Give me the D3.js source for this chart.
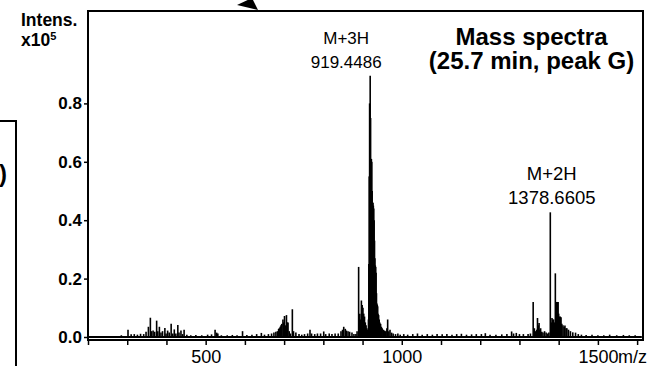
<!DOCTYPE html>
<html>
<head>
<meta charset="utf-8">
<script src="https://cdnjs.cloudflare.com/ajax/libs/d3/7.8.5/d3.min.js"></script>
<style>
  body { margin: 0; background: #fff; }
  svg { display: block; }
</style>
</head>
<body>
<div id="chart"></div>
<script>
var width = 652, height = 366;
var font = 'Arial, "Liberation Sans", Helvetica, sans-serif';

// axis ticks
var xTickValues = [200, 300, 400, 500, 600, 700, 800, 900, 1000, 1100, 1200, 1300, 1400, 1500, 1600];
var xTickLabels = [500, 1000, 1500];
var yTickValues = [0, 0.2, 0.4, 0.6, 0.8];

// spectrum as [m/z, intensity x10^5]
var lowMass = [[285,0.006],[302,0.025],[310,0.009],[318,0.01],[326,0.008],[334,0.011],[342,0.01],[348,0.018],
  [354,0.035],[359,0.066],[362,0.02],[366,0.022],[370,0.018],[375,0.056],[378,0.02],[382,0.035],[386,0.015],
  [390,0.02],[396,0.031],[399,0.012],[403,0.022],[407,0.015],[412,0.045],[416,0.012],[420,0.026],[424,0.012],
  [429,0.041],[432,0.015],[437,0.022],[441,0.01],[445,0.025],[452,0.008],[462,0.006],[475,0.007],[490,0.006],
  [505,0.008],[515,0.009],[524,0.025],[528,0.015],[531,0.012],[540,0.006],[555,0.006],[568,0.007],[580,0.006],
  [594,0.02],[605,0.007],[618,0.008],[630,0.01],[642,0.014],[650,0.008],[660,0.01],[668,0.012],[674,0.015],
  [679,0.018],[683,0.02],[686,0.028],[688,0.03],[690,0.035],[692,0.04],[694,0.045],[697,0.06],[699,0.05],
  [701,0.072],[703,0.04],[706,0.075],[708,0.05],[710,0.05],[713,0.02],[716,0.012],[721,0.095],[724,0.02],
  [730,0.015],[738,0.01],[745,0.008],[752,0.01],[760,0.012],[766,0.025],[770,0.012],[778,0.01],[785,0.012],
  [793,0.012],[801,0.019],[806,0.01],[815,0.012],[822,0.01],[830,0.012],[838,0.012],[845,0.02],[849,0.025],
  [852,0.035],[856,0.028],[859,0.022],[863,0.02],[867,0.018],[873,0.015],[878,0.01],[883,0.01]];

var cluster3H = [[886,0.02],[890,0.24],[893,0.08],[895,0.06],[897,0.125],[899,0.11],[901,0.10],[903,0.08],
  [905,0.07],[907,0.05],[909,0.04],[911,0.03],[913,0.025],[915,0.06],[916,0.25],[917,0.55],[918,0.8],
  [919.4486,0.895],[920.5,0.75],[921.5,0.61],[922.5,0.61],[923.5,0.60],[924.5,0.5],[925.5,0.46],[926.5,0.46],
  [927.5,0.45],[928.5,0.44],[929.5,0.40],[930.5,0.33],[931.5,0.27],[932.5,0.245],[933.5,0.24],[934.5,0.22],
  [935.5,0.15],[936.5,0.115],[937.5,0.11],[938.5,0.105],[939.5,0.08],[941,0.075],[942.5,0.06],[944,0.05],
  [946,0.045],[948,0.035],[950,0.03],[953,0.025],[956,0.022],[959,0.02],[962,0.03],[964,0.06],[967,0.02],
  [970,0.025],[974,0.015],[978,0.012],[984,0.01],[990,0.012],[996,0.008]];

var midMass = [[1005,0.01],[1015,0.008],[1028,0.01],[1040,0.012],[1052,0.008],[1065,0.01],[1078,0.008],
  [1090,0.01],[1103,0.009],[1115,0.01],[1128,0.008],[1140,0.01],[1152,0.011],[1165,0.008],[1178,0.009],
  [1190,0.01],[1203,0.01],[1213,0.013],[1225,0.008],[1240,0.008],[1255,0.009],[1268,0.01],[1280,0.019],
  [1285,0.012],[1292,0.014],[1300,0.01],[1310,0.01]];

var cluster2H = [[1322,0.01],[1328,0.012],[1335,0.12],[1338,0.03],[1341,0.02],[1344,0.025],[1346,0.065],
  [1348,0.04],[1350,0.048],[1352,0.025],[1354,0.03],[1357,0.018],[1360,0.015],[1364,0.02],[1368,0.015],
  [1372,0.012],[1375,0.015],[1378.6605,0.427],[1381,0.05],[1383,0.065],[1385,0.06],[1387,0.06],[1389,0.05],
  [1391.5,0.218],[1393,0.12],[1395,0.12],[1397,0.12],[1398.5,0.12],[1400,0.08],[1402,0.07],[1404,0.07],
  [1406,0.068],[1408,0.045],[1411,0.04],[1414,0.035],[1416,0.039],[1419,0.03],[1421,0.03],[1425,0.025],
  [1430,0.02],[1436,0.016],[1443,0.015],[1450,0.01],[1458,0.008]];

var highMass = [[1470,0.007],[1485,0.008],[1500,0.006],[1515,0.006],[1530,0.008],[1548,0.006],[1565,0.007],
  [1580,0.006],[1595,0.006]];

var peakNames = ['M+3H', 'M+2H'];
var peakMz = [919.4486, 1378.6605];

var titleLines = ['Mass spectra', '(25.7 min, peak G)'];

var svg = d3.select('#chart').append('svg')
  .attr('width', width)
  .attr('height', height)
  .attr('font-family', font);

var x = d3.scaleLinear().domain([200, 1615]).range([88, 643]);
var y = d3.scaleLinear().domain([0, 1]).range([337, 45]);
var frameTop = 11, frameBottom = 340;

// bits of the neighbouring panels that are cut off
svg.append('path')
  .attr('d', 'M-2,121H16V370')
  .attr('fill', 'none')
  .attr('stroke', '#000')
  .attr('stroke-width', 2);
svg.append('text')
  .attr('x', 7).attr('y', 182)
  .attr('text-anchor', 'end')
  .attr('font-size', 24).attr('font-weight', 'bold')
  .text(')');
svg.append('path')
  .attr('d', 'M237,5L252,-2L258,10Z')
  .attr('fill', '#000');

// spectrum
var spectrum = lowMass.concat(cluster3H, midMass, cluster2H, highMass);

svg.append('path')
  .datum([[200, 0], [1612, 0]])
  .attr('d', d3.line().x(function (d) { return x(d[0]); }).y(function (d) { return y(d[1]); }))
  .attr('stroke', '#000')
  .attr('stroke-width', 2);

svg.append('g').selectAll('line').data(spectrum)
  .enter().append('line')
  .attr('x1', function (d) { return x(d[0]); })
  .attr('x2', function (d) { return x(d[0]); })
  .attr('y1', y(0))
  .attr('y2', function (d) { return y(d[1]); })
  .attr('stroke', '#000')
  .attr('stroke-width', 1.6);

// frame
svg.append('rect')
  .attr('x', x.range()[0]).attr('y', frameTop)
  .attr('width', x.range()[1] - x.range()[0])
  .attr('height', frameBottom - frameTop)
  .attr('fill', 'none')
  .attr('stroke', '#000')
  .attr('stroke-width', 2);

// x axis
var gx = svg.append('g')
  .attr('transform', 'translate(0,' + frameBottom + ')')
  .call(d3.axisBottom(x)
    .tickValues(xTickValues)
    .tickSize(5)
    .tickPadding(5)
    .tickFormat(function (d) { return xTickLabels.indexOf(d) > -1 ? d : ''; }));
gx.attr('font-family', font).attr('font-size', 18);
gx.select('.domain').remove();
gx.selectAll('line').attr('stroke-width', 1.5);

var last = gx.selectAll('.tick').filter(function (d) { return d === 1500; }).select('text');
var w1500 = last.node().getComputedTextLength();
gx.append('text')
  .attr('x', x(1500) + w1500 / 2)
  .attr('y', last.attr('y'))
  .attr('dy', last.attr('dy'))
  .attr('text-anchor', 'start')
  .attr('fill', '#000')
  .text('m/z');

// y axis
var gy = svg.append('g')
  .attr('transform', 'translate(' + x.range()[0] + ',0)')
  .call(d3.axisLeft(y)
    .tickValues(yTickValues)
    .tickSize(4)
    .tickPadding(2)
    .tickFormat(d3.format('.1f')));
gy.attr('font-family', font).attr('font-size', 17).attr('font-weight', 'bold');
gy.select('.domain').remove();
gy.selectAll('line').attr('stroke-width', 1.5);

svg.append('text')
  .attr('x', 21).attr('y', 26)
  .attr('font-size', 17.5).attr('font-weight', 'bold')
  .text('Intens.');
var unit = svg.append('text')
  .attr('x', 21).attr('y', 46)
  .attr('font-size', 17.5).attr('font-weight', 'bold')
  .text('x10');
unit.append('tspan')
  .attr('font-size', 11)
  .attr('dy', -6)
  .text('5');

// peak labels
peakNames.forEach(function (name, i) {
  var mz = peakMz[i];
  var top = spectrum.filter(function (d) { return d[0] === mz; })[0][1];
  var cx = x(mz) + (i === 0 ? -24 : 1.5);
  var t = svg.append('text')
    .attr('text-anchor', 'middle')
    .attr('font-size', i === 0 ? 17 : 18.5);
  t.append('tspan').attr('x', cx).attr('y', y(top) - 32).text(name);
  t.append('tspan').attr('x', cx).attr('y', y(top) - 8).text(d3.format('.4f')(mz));
});

// title
svg.append('g').selectAll('text').data(titleLines)
  .enter().append('text')
  .attr('x', 531.5)
  .attr('y', function (d, i) { return 44.5 + i * 24.5; })
  .attr('text-anchor', 'middle')
  .attr('font-size', 24)
  .attr('font-weight', 'bold')
  .text(function (d) { return d; });
</script>
</body>
</html>
